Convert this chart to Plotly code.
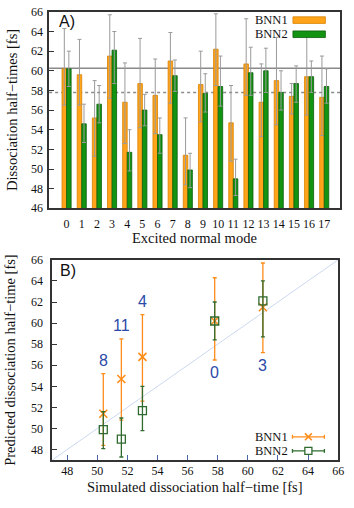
import plotly.graph_objects as go

W, H = 354, 508

# panel A: dissociation half-times per excited normal mode
modes = list(range(18))
bnn1 = [60.2, 59.6, 55.2, 61.5, 56.8, 58.7, 57.5, 61.0, 51.4, 58.6, 62.2, 54.7, 60.7, 56.8, 59.0, 57.4, 59.4, 57.3]
bnn1_hi = [64.3, 63.2, 59.0, 65.7, 60.8, 63.3, 61.2, 63.9, 55.2, 62.0, 65.8, 58.5, 65.3, 60.7, 63.4, 58.7, 63.5, 61.5]
bnn1_lo = [56.5, 56.5, 51.3, 57.2, 52.6, 54.2, 53.6, 56.7, 48.4, 54.8, 58.5, 50.8, 57.5, 53.3, 54.5, 55.6, 55.5, 53.4]
bnn2 = [60.2, 54.6, 56.6, 62.1, 51.7, 56.0, 53.5, 59.5, 49.9, 57.7, 58.4, 49.0, 59.8, 60.0, 57.8, 58.7, 59.4, 58.4]
bnn2_hi = [62.0, 56.6, 58.5, 64.0, 54.0, 57.6, 55.2, 61.1, 51.6, 59.7, 61.5, 51.0, 62.4, 62.3, 60.0, 60.5, 61.0, 60.2]
bnn2_lo = [58.4, 52.7, 54.7, 58.7, 49.8, 54.4, 51.6, 57.9, 48.1, 55.8, 56.4, 47.3, 57.5, 57.8, 56.0, 56.8, 57.8, 56.7]
solid_level = 60.25
dashed_level = 57.8

# panel B: simulated vs predicted, for selected modes
sel_modes = [8, 11, 4, 0, 3]
sim_time = [50.4, 51.6, 53.0, 57.8, 61.0]
label_above = [True, True, True, False, False]
diag = [47, 66]

ORANGE = '#ffa31a'
ORANGE_D = '#d98200'
GREEN = '#129312'
GREEN_D = '#0b5e0b'
B_ORANGE = '#ff8c1a'
B_GREEN = '#2f6b2f'
SERIF = 'Liberation Serif'
SANS = 'Liberation Sans'


def px(x):
    return x / W


def py(y):
    return 1 - y / H


def up(hi, v):
    return [h - a for h, a in zip(hi, v)]


def down(lo, v):
    return [a - l for l, a in zip(lo, v)]


def note(x, y, text, font, **kw):
    d = dict(x=px(x), y=py(y), xref='paper', yref='paper', text=text, showarrow=False,
             xanchor='center', yanchor='middle', font=font, borderpad=0)
    d.update(kw)
    return d


fig = go.Figure()

for name, v, hi, lo, col, lcol in [('BNN1', bnn1, bnn1_hi, bnn1_lo, ORANGE, ORANGE_D),
                                   ('BNN2', bnn2, bnn2_hi, bnn2_lo, GREEN, GREEN_D)]:
    fig.add_trace(go.Bar(
        x=modes, y=v, name=name, xaxis='x', yaxis='y', showlegend=False,
        marker=dict(color=col, line=dict(color=lcol, width=0.8)),
        error_y=dict(type='data', symmetric=False, array=up(hi, v), arrayminus=down(lo, v),
                     color='#9a9a9a', thickness=1, width=2)))

fig.add_trace(go.Scatter(x=diag, y=diag, mode='lines', xaxis='x2', yaxis='y2', showlegend=False,
                         line=dict(color='#ccd8f0', width=1), hoverinfo='skip'))

p1 = [bnn1[m] for m in sel_modes]
p1_hi = [bnn1_hi[m] for m in sel_modes]
p1_lo = [bnn1_lo[m] for m in sel_modes]
p2 = [bnn2[m] for m in sel_modes]
p2_hi = [bnn2_hi[m] for m in sel_modes]
p2_lo = [bnn2_lo[m] for m in sel_modes]

fig.add_trace(go.Scatter(
    x=sim_time, y=p1, mode='markers', name='BNN1', xaxis='x2', yaxis='y2', showlegend=False,
    marker=dict(symbol='x-thin-open', size=8, color=B_ORANGE, line=dict(color=B_ORANGE, width=1.6)),
    error_y=dict(type='data', symmetric=False, array=up(p1_hi, p1), arrayminus=down(p1_lo, p1),
                 color=B_ORANGE, thickness=1.3, width=2)))
fig.add_trace(go.Scatter(
    x=sim_time, y=p2, mode='markers', name='BNN2', xaxis='x2', yaxis='y2', showlegend=False,
    marker=dict(symbol='square-open', size=8, color=B_GREEN, line=dict(color=B_GREEN, width=1.3)),
    error_y=dict(type='data', symmetric=False, array=up(p2_hi, p2), arrayminus=down(p2_lo, p2),
                 color=B_GREEN, thickness=1.3, width=2)))

annotations = []
for m, x, hi, lo, above in zip(sel_modes, sim_time, p1_hi, p1_lo, label_above):
    annotations.append(dict(x=x, y=hi if above else lo, xref='x2', yref='y2', text=str(m),
                            showarrow=False, xanchor='center', yanchor='middle',
                            yshift=13 if above else -13,
                            font=dict(family=SANS, size=16, color='#2b4aa8')))

tfont = dict(family=SERIF, size=14.5, color='#111')
pfont = dict(family=SANS, size=16, color='#111')
annotations += [
    note(12, 106, 'Dissociation half\u2212times [fs]', tfont, textangle=-90),
    note(198, 238, 'Excited normal mode', tfont),
    note(10, 363, 'Predicted dissociation half\u2212time [fs]', tfont, textangle=-90),
    note(198, 494, 'Simulated dissociation half\u2212time [fs]', tfont),
    note(68.5, 14.5, 'A)', pfont),
    note(69, 271, 'B)', pfont),
]

lfont = dict(family=SERIF, size=12.5, color='#111')
shapes = [
    dict(type='line', xref='x domain', x0=0, x1=1, yref='y', y0=solid_level, y1=solid_level,
         line=dict(color='#8a8a8a', width=1.5), layer='below'),
    dict(type='line', xref='x domain', x0=0, x1=1, yref='y', y0=dashed_level, y1=dashed_level,
         line=dict(color='#8a8a8a', width=1.5, dash='dot'), layer='below'),
]

# legend, panel A
for name, yc, col, lcol in [('BNN1', 13.5, ORANGE, ORANGE_D), ('BNN2', 28, GREEN, GREEN_D)]:
    annotations.append(note(294, yc, name, lfont, xanchor='right'))
    shapes.append(dict(type='rect', xref='paper', yref='paper', x0=px(298), x1=px(331),
                       y0=py(yc - 3.4), y1=py(yc + 3.4), fillcolor=col, line=dict(color=lcol, width=0.8)))

# legend, panel B
for name, yc, col in [('BNN1', 442, B_ORANGE), ('BNN2', 456.5, B_GREEN)]:
    annotations.append(note(294, yc, name, lfont, xanchor='right'))
    ln = dict(color=col, width=1.3)
    shapes.append(dict(type='line', xref='paper', yref='paper', x0=px(297.5), x1=px(330),
                       y0=py(yc), y1=py(yc), line=ln))
    for xe in (297.5, 330):
        shapes.append(dict(type='line', xref='paper', yref='paper', x0=px(xe), x1=px(xe),
                           y0=py(yc - 2), y1=py(yc + 2), line=ln))
    xc = 313.7
    if name == 'BNN1':
        for d in (1, -1):
            shapes.append(dict(type='line', xref='paper', yref='paper', x0=px(xc - 3.5), x1=px(xc + 3.5),
                               y0=py(yc - 3.5 * d), y1=py(yc + 3.5 * d), line=dict(color=col, width=1.6)))
    else:
        shapes.append(dict(type='rect', xref='paper', yref='paper', x0=px(xc - 3.6), x1=px(xc + 3.6),
                           y0=py(yc - 3.6), y1=py(yc + 3.6), fillcolor='white', line=ln))

axis_common = dict(showline=True, mirror=True, linecolor='#333', linewidth=1.5, showgrid=False,
                   zeroline=False, tickfont=dict(family=SERIF, size=12, color='#111'))

fig.update_layout(
    width=W, height=H, margin=dict(l=0, r=0, t=0, b=0),
    paper_bgcolor='white', plot_bgcolor='white',
    barmode='group', bargap=0.4, bargroupgap=0,
    xaxis=dict(domain=[px(50), px(346)], range=[-1.15, 18.05], tickvals=modes, ticks='',
               anchor='y', ticklabelstandoff=4, **axis_common),
    yaxis=dict(domain=[py(207), py(5)], range=[46, 66], dtick=2, ticks='inside', ticklen=5,
               tickcolor='#333', anchor='x', ticklabelstandoff=2, **axis_common),
    xaxis2=dict(domain=[px(53), px(344)], range=[47, 66], tickvals=list(range(48, 67, 2)),
                ticks='inside', ticklen=5, tickcolor='#4a64a8', anchor='y2', ticklabelstandoff=-1,
                **axis_common),
    yaxis2=dict(domain=[py(466), py(260)], range=[47, 66], dtick=2, ticks='inside', ticklen=5,
                tickcolor='#333', anchor='x2', ticklabelstandoff=5, **axis_common),
    annotations=annotations, shapes=shapes,
)

fig.write_html("out.html", config={'displayModeBar': False},
               post_script="document.body.style.margin='0';document.body.style.overflow='hidden';")
